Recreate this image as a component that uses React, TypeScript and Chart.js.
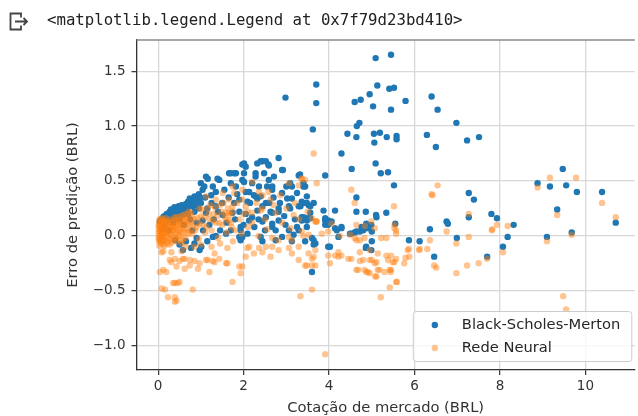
import React, { useEffect, useRef } from "react";
import { Chart, registerables } from "chart.js";

Chart.register(...registerables);

const headerText = "<matplotlib.legend.Legend at 0x7f79d23bd410>";
const seriesLabels = ["Black-Scholes-Merton", "Rede Neural"];
const xTitle = "Cotação de mercado (BRL)";
const yTitle = "Erro de predição (BRL)";
const xTicks = [0, 2, 4, 6, 8, 10];
const yTicks = [-1.0, -0.5, 0.0, 0.5, 1.0, 1.5];

// Black-Scholes-Merton prediction error vs market price
const bsmPoints: [number, number][] = [
  [5.09, 1.62], [5.45, 1.65], [3.70, 1.38], [3.70, 1.21], [3.62, 0.97], [2.98, 1.26],
  [5.13, 1.37], [4.95, 1.29], [5.41, 1.34], [5.52, 1.35], [4.60, 1.22], [4.74, 1.24],
  [5.03, 1.18], [5.45, 1.15], [5.79, 1.23], [6.40, 1.27], [6.54, 1.15], [6.98, 1.03],
  [4.65, 1.00], [4.71, 1.03], [4.43, 0.93], [4.64, 0.90], [5.05, 0.93], [5.19, 0.94],
  [5.35, 0.90], [5.58, 0.91], [5.58, 0.88], [5.06, 0.85], [6.29, 0.92], [6.50, 0.81],
  [7.23, 0.87], [7.51, 0.90], [4.29, 0.75], [4.53, 0.61], [5.09, 0.66], [5.21, 0.57],
  [5.38, 0.58], [5.52, 0.46], [3.91, 0.55], [3.32, 0.56], [3.40, 0.45],
  [9.47, 0.61], [8.88, 0.48], [9.17, 0.45], [9.55, 0.46], [9.80, 0.40], [10.39, 0.40],
  [9.34, 0.24], [10.71, 0.12], [7.27, 0.39], [7.39, 0.33], [6.75, 0.13], [6.78, 0.11],
  [7.27, 0.17], [7.80, 0.20], [7.93, 0.16], [8.32, 0.10], [6.36, 0.06], [9.68, 0.03],
  [6.99, -0.02], [9.10, -0.01], [8.18, -0.01], [8.07, -0.10], [7.70, -0.19], [6.46, -0.19],
  [5.87, -0.04], [6.12, -0.05],
  [4.64, 0.35], [4.64, 0.22], [4.86, 0.22], [5.10, 0.19], [5.34, 0.21], [5.55, 0.11],
  [4.14, 0.23], [3.87, 0.23], [5.11, 0.17], [4.99, 0.10], [5.00, 0.04], [5.00, -0.05],
  [4.99, -0.13], [4.86, -0.11], [4.64, 0.04], [4.76, 0.08], [4.49, 0.02], [4.29, 0.08],
  [4.22, -0.01], [4.14, 0.07], [4.02, -0.10], [3.91, 0.16], [4.02, 0.12], [3.60, -0.02],
  [3.64, -0.08], [3.60, -0.33], [3.44, -0.05], [3.40, 0.30], [3.52, 0.28], [3.36, 0.17],
  [3.48, 0.16], [3.98, 0.14], [4.06, 0.13], [3.91, 0.10], [4.18, 0.05], [4.52, 0.02],
  [4.60, 0.03], [4.72, 0.04], [4.80, 0.05], [4.91, 0.07], [4.87, 0.11], [3.98, -0.10],
  [4.87, -0.10],
  [2.01, 0.66], [2.32, 0.66], [2.44, 0.68], [2.58, 0.65], [2.82, 0.71], [2.92, 0.60],
  [3.29, 0.55], [3.44, 0.45], [3.48, 0.36], [3.13, 0.34], [3.64, 0.30], [3.06, 0.27],
  [2.82, 0.25], [2.67, 0.21], [2.32, 0.23], [2.52, 0.30], [2.28, 0.36], [2.05, 0.40],
  [1.97, 0.51], [1.82, 0.45], [1.66, 0.57], [1.70, 0.48], [1.43, 0.51], [1.28, 0.45],
  [1.12, 0.54], [1.24, 0.37], [0.93, 0.33], [0.81, 0.27], [0.62, 0.27], [0.43, 0.25],
  [0.27, 0.22], [0.12, 0.17], [0.04, 0.13], [2.40, 0.36], [2.20, 0.48], [2.05, 0.63],
  [2.28, 0.57], [2.59, 0.51], [2.67, 0.45], [2.36, 0.45], [2.90, 0.39], [3.13, 0.45],
  [3.40, 0.48], [3.33, 0.27], [3.36, 0.14], [3.56, 0.21], [2.82, 0.14], [2.67, 0.08],
  [2.44, 0.13], [2.13, 0.14], [1.93, 0.08], [1.74, 0.21], [1.51, 0.19], [1.35, 0.27],
  [1.12, 0.21], [1.04, 0.14], [1.16, 0.52], [1.39, 0.52], [1.78, 0.57], [1.97, 0.65],
  [0.74, 0.34], [1.04, 0.42], [2.40, 0.68], [2.52, 0.68], [2.59, 0.64], [1.70, 0.57],
  [1.82, 0.57], [2.01, 0.57], [2.01, 0.49], [2.28, 0.54], [2.48, 0.57], [2.71, 0.54],
  [2.90, 0.60], [3.09, 0.48], [3.25, 0.39], [2.55, 0.45], [2.67, 0.42], [2.13, 0.40],
  [2.24, 0.37], [2.32, 0.34], [2.09, 0.31], [1.90, 0.33], [1.78, 0.30], [2.44, 0.27],
  [2.63, 0.22], [2.82, 0.22], [3.02, 0.34], [3.09, 0.25], [3.29, 0.27], [3.36, 0.31],
  [3.48, 0.30], [3.56, 0.27], [3.40, 0.17], [3.48, 0.14], [3.56, 0.16], [3.91, 0.14],
  [3.98, 0.10], [4.29, 0.07], [3.68, -0.07], [2.98, 0.10], [3.06, 0.05], [2.67, 0.11],
  [2.75, 0.05], [2.52, 0.17], [2.20, 0.17], [1.93, 0.05], [1.97, -0.01], [2.40, -0.01],
  [2.44, -0.05], [2.90, -0.01], [3.17, 0.01], [0.58, -0.13], [0.77, -0.11], [0.97, -0.13],
  [1.01, -0.10], [0.85, -0.07], [1.28, -0.01], [1.59, 0.02], [1.90, -0.01], [1.93, -0.04],
  [2.09, 0.02], [2.75, -0.04], [3.13, -0.05], [3.29, 0.05], [3.48, 0.08], [3.64, -0.04],
  [0.15, 0.10], [0.20, 0.15], [0.30, 0.18], [0.35, 0.12], [0.45, 0.20], [0.50, 0.15],
  [0.55, 0.22], [0.60, 0.10], [0.70, 0.20], [0.75, 0.15], [0.80, 0.05], [0.85, 0.22],
  [0.90, 0.12], [0.95, 0.25], [1.00, 0.30], [1.05, 0.05], [1.10, 0.35], [1.15, 0.25],
  [1.20, 0.10], [1.25, 0.30], [1.30, 0.15], [1.35, 0.40], [1.40, 0.22], [1.45, 0.05],
  [1.50, 0.30], [1.55, 0.42], [1.60, 0.12], [1.65, 0.35], [1.70, 0.05], [1.80, 0.15],
  [1.85, 0.38], [1.90, 0.22], [2.00, 0.10], [2.05, 0.20], [2.15, 0.30], [2.25, 0.08],
  [2.35, 0.15], [2.50, 0.05], [2.60, 0.30], [2.70, 0.35], [2.85, 0.30], [2.95, 0.18],
  [3.00, 0.45], [3.20, 0.15], [3.25, 0.08], [0.65, -0.05], [0.90, -0.02], [0.50, -0.08],
  [0.40, -0.04], [1.15, -0.05], [1.35, 0.00], [0.25, 0.05], [0.10, 0.06], [0.20, 0.20],
  [0.30, 0.24], [0.38, 0.26], [0.48, 0.27], [0.55, 0.28], [0.65, 0.29], [0.70, 0.31],
  [0.85, 0.36], [0.95, 0.38], [1.00, 0.48], [1.08, 0.45],
  [0.08, 0.15], [0.14, 0.18], [0.18, 0.13], [0.24, 0.20], [0.28, 0.15], [0.33, 0.21],
  [0.40, 0.22], [0.42, 0.16], [0.52, 0.24], [0.58, 0.19], [0.62, 0.24], [0.68, 0.25],
  [0.72, 0.27], [0.78, 0.29], [0.82, 0.31], [0.88, 0.28], [0.92, 0.32], [0.98, 0.35],
];

// Neural network prediction error vs market price
const neuralPoints: [number, number][] = [
  [3.64, 0.75], [4.52, 0.42], [4.60, 0.30], [5.52, 0.27], [6.54, 0.46], [6.40, 0.38],
  [9.17, 0.53], [9.78, 0.53], [8.88, 0.44], [10.39, 0.30], [9.34, 0.19], [10.71, 0.17],
  [7.27, 0.20], [3.70, 0.13], [3.36, 0.52], [7.93, 0.10], [7.82, 0.06], [9.68, 0.01],
  [9.10, -0.05], [9.48, -0.55], [9.55, -0.67], [8.18, 0.09], [8.07, -0.15], [7.70, -0.21],
  [7.50, -0.25], [7.23, -0.27], [6.98, -0.34], [6.98, -0.07], [7.27, -0.01], [6.75, 0.04],
  [7.81, 0.05], [6.46, -0.27], [6.51, -0.29], [6.36, -0.04], [6.30, -0.12], [6.12, -0.12],
  [5.87, -0.12], [5.79, -0.20], [5.59, -0.42], [5.42, -0.47], [5.21, -0.56], [5.53, 0.07],
  [5.34, -0.18], [5.45, -0.18], [5.38, -0.22], [5.53, -0.24], [5.30, -0.33], [5.44, -0.33],
  [5.18, -0.31], [5.08, -0.37], [5.07, -0.25], [5.11, -0.24], [5.00, -0.22], [5.14, -0.16],
  [4.91, -0.33], [4.83, -0.31], [4.72, -0.23], [4.64, -0.31], [4.72, -0.15], [4.64, -0.04],
  [4.45, -0.21], [4.29, -0.18], [4.22, -0.15], [4.02, -0.25], [3.91, -1.08], [3.60, -0.49],
  [3.60, -0.27], [3.44, -0.27], [3.33, -0.55], [4.64, 0.10], [4.84, 0.09], [5.07, 0.07],
  [5.22, -0.02], [5.34, -0.02], [5.57, 0.02], [4.25, 0.00], [4.22, -0.19], [4.14, -0.18],
  [4.52, -0.21], [4.80, -0.22], [4.95, -0.22], [4.95, -0.13], [4.68, -0.31], [4.87, -0.33],
  [4.95, -0.34], [5.14, -0.31], [5.11, -0.37], [5.57, -0.42], [5.49, -0.24], [5.57, -0.21],
  [5.42, -0.31], [5.45, -0.31], [5.84, -0.13], [5.88, -0.19], [5.76, -0.25], [6.11, -0.13],
  [6.42, 0.37], [5.53, 0.10], [5.57, 0.05], [4.99, 0.13], [4.49, 0.01], [4.60, -0.02],
  [4.72, -0.04], [4.83, -0.02], [3.68, 0.13], [3.83, 0.02], [3.64, -0.19], [3.68, -0.27],
  [3.29, 0.46], [2.86, 0.37], [3.06, 0.48], [2.75, 0.21], [2.20, 0.49], [2.36, 0.40],
  [2.58, 0.40], [1.74, 0.45], [1.51, 0.39], [1.35, 0.33], [1.12, 0.36], [0.97, 0.25],
  [0.77, 0.21], [0.66, 0.17], [0.50, 0.14], [1.97, 0.33], [2.05, 0.27], [1.74, 0.27],
  [1.58, 0.21], [2.20, 0.21], [2.44, 0.25], [3.71, 0.48], [3.36, 0.52], [2.63, 0.33],
  [2.44, 0.37], [1.97, 0.42], [1.78, 0.39], [1.66, 0.33], [1.66, 0.21], [2.09, 0.22],
  [2.40, 0.23], [3.17, 0.19], [3.60, 0.16], [3.71, 0.13], [4.06, 0.11], [3.98, 0.04],
  [3.36, 0.04], [3.52, 0.01], [3.06, -0.01], [3.13, -0.04], [2.67, -0.02], [2.82, -0.04],
  [2.13, -0.10], [2.36, -0.11], [2.52, -0.10], [3.29, -0.10], [3.52, -0.16], [3.98, -0.18],
  [1.66, 0.14], [3.44, 0.51],
  [0.04, -0.33], [0.12, -0.31], [0.19, -0.33], [0.08, -0.48], [0.16, -0.49], [0.23, -0.56],
  [0.39, -0.56], [0.43, -0.59], [0.39, -0.60], [0.39, -0.43], [0.46, -0.43], [0.81, -0.49],
  [0.27, -0.22], [0.39, -0.21], [0.50, -0.23], [0.62, -0.21], [0.74, -0.22], [0.85, -0.23],
  [0.97, -0.25], [1.12, -0.22], [1.28, -0.23], [0.43, -0.28], [0.62, -0.30], [0.93, -0.30],
  [1.20, -0.33], [1.32, -0.16], [1.43, -0.21], [1.62, -0.25], [1.74, -0.42], [1.93, -0.34],
  [1.97, -0.28], [2.05, -0.19], [2.24, -0.16], [2.44, -0.15], [2.63, -0.19], [2.67, -0.10],
  [2.82, -0.13], [3.06, -0.11], [3.13, -0.16], [3.29, -0.22], [3.48, -0.27], [3.60, -0.21],
  [3.68, -0.13], [0.31, -0.24], [0.58, -0.21], [0.74, -0.27], [1.16, -0.22], [1.32, -0.24],
  [1.59, -0.25], [1.62, -0.11], [1.90, -0.28], [2.09, -0.11], [0.35, -0.43], [0.50, -0.42],
  [0.08, -0.15], [0.12, -0.14], [0.31, -0.15],
  [0.02, 0.12], [0.02, 0.06], [0.02, 0.00], [0.02, -0.05], [0.03, -0.09], [0.05, 0.14],
  [0.05, 0.08], [0.05, 0.03], [0.05, -0.02], [0.06, -0.07], [0.08, 0.11], [0.08, 0.05],
  [0.09, -0.01], [0.10, -0.05], [0.11, 0.15], [0.12, 0.08], [0.13, 0.02], [0.14, -0.03],
  [0.15, -0.09], [0.17, 0.12], [0.18, 0.06], [0.19, 0.00], [0.20, -0.05], [0.22, 0.10],
  [0.23, 0.04], [0.25, -0.02], [0.26, 0.15], [0.28, 0.07], [0.30, 0.01], [0.31, -0.06],
  [0.33, 0.12], [0.35, 0.05], [0.37, -0.01], [0.39, 0.17], [0.40, 0.09], [0.42, 0.02],
  [0.44, -0.05], [0.46, 0.13], [0.48, 0.06], [0.50, 0.00], [0.52, 0.18], [0.54, 0.10],
  [0.56, 0.03], [0.58, -0.03], [0.60, 0.14], [0.63, 0.07], [0.65, 0.20], [0.68, 0.11],
  [0.70, 0.02], [0.73, 0.16], [0.03, 0.09], [0.04, -0.04], [0.07, 0.01], [0.10, 0.12],
  [0.16, 0.03], [0.21, 0.13], [0.27, -0.08], [0.34, 0.08], [0.45, 0.10], [0.55, -0.07],
  [0.01, 0.03], [0.01, -0.02], [0.01, 0.09], [0.03, 0.15], [0.04, 0.05], [0.06, 0.11],
  [0.07, -0.04], [0.08, 0.16], [0.09, 0.07], [0.11, 0.01], [0.12, -0.08], [0.13, 0.13],
  [0.14, 0.06], [0.16, -0.04], [0.18, 0.16], [0.19, 0.09], [0.21, 0.03], [0.22, -0.07],
  [0.24, 0.12], [0.25, 0.08], [0.27, 0.02], [0.29, 0.13], [0.30, -0.03], [0.32, 0.09],
  [0.33, 0.04], [0.36, 0.15], [0.36, -0.04], [0.38, 0.07], [0.41, 0.13], [0.41, -0.02],
  [0.43, 0.05], [0.45, 0.17], [0.47, 0.01], [0.49, 0.11], [0.51, 0.05], [0.53, -0.04],
  [0.55, 0.15], [0.57, 0.08], [0.59, 0.19], [0.61, 0.03], [0.62, 0.11], [0.64, -0.02],
  [0.66, 0.14], [0.69, 0.06], [0.72, 0.22], [0.74, 0.04], [0.77, 0.13], [0.79, 0.18],
  [0.82, 0.09], [0.87, 0.05], [0.92, 0.16], [0.97, 0.11], [1.02, 0.24], [1.08, 0.17],
  [1.13, 0.08], [1.18, 0.20], [1.22, 0.28], [1.28, 0.14], [1.33, 0.26], [1.38, 0.18],
  [1.43, 0.12], [1.48, 0.22], [1.53, 0.30], [1.58, 0.15], [1.63, 0.25], [1.68, 0.19],
  [1.72, 0.08],
  [0.75, 0.10], [0.80, 0.02], [0.85, 0.15], [0.90, 0.08], [0.95, -0.03], [1.00, 0.18],
  [1.05, 0.10], [1.10, 0.03], [1.15, 0.25], [1.20, 0.15], [1.25, 0.05], [1.30, 0.20],
  [1.35, 0.12], [1.40, -0.02], [1.45, 0.28], [1.50, 0.10], [1.55, 0.18], [1.60, 0.03],
  [1.70, 0.12], [1.75, 0.22], [1.80, 0.05], [1.85, 0.30], [1.90, 0.15], [1.95, 0.02],
  [2.00, 0.20], [2.10, 0.08], [2.20, 0.12], [2.30, 0.30], [2.35, 0.00], [2.50, 0.15],
  [2.55, 0.06], [2.70, 0.28], [2.90, 0.12], [3.00, 0.25], [3.10, 0.07], [3.20, 0.30],
  [3.30, 0.15], [3.40, 0.00], [3.50, 0.22], [0.85, -0.10], [1.00, -0.08], [1.25, -0.10],
  [1.45, -0.07], [1.75, -0.05], [0.65, -0.10], [0.55, -0.14],
];

const FONT = "'DejaVu Sans', sans-serif";
const BLUE = "#1f77b4";
const ORANGE = "rgba(255,127,14,0.46)";

const decorPlugin = {
  id: "decor",
  beforeDraw(chart: any) {
    const ctx = chart.ctx as CanvasRenderingContext2D;
    ctx.save();
    ctx.fillStyle = "#ffffff";
    ctx.fillRect(0, 0, chart.width, chart.height);
    // output icon
    ctx.strokeStyle = "#444444";
    ctx.lineWidth = 1.8;
    ctx.lineCap = "butt";
    ctx.beginPath();
    ctx.moveTo(21, 17.5);
    ctx.lineTo(21, 13.5);
    ctx.lineTo(10.5, 13.5);
    ctx.lineTo(10.5, 29.5);
    ctx.lineTo(21, 29.5);
    ctx.lineTo(21, 25.5);
    ctx.stroke();
    ctx.beginPath();
    ctx.moveTo(15, 21.5);
    ctx.lineTo(27, 21.5);
    ctx.moveTo(23.5, 18);
    ctx.lineTo(27, 21.5);
    ctx.lineTo(23.5, 25);
    ctx.stroke();
    ctx.fillStyle = "#212121";
    ctx.font = "15.7px 'DejaVu Sans Mono', monospace";
    ctx.textBaseline = "alphabetic";
    ctx.textAlign = "left";
    ctx.fillText(headerText, 47, 24.5);
    ctx.restore();
  },
  afterDatasetsDraw(chart: any) {
    const ctx = chart.ctx as CanvasRenderingContext2D;
    const area = chart.chartArea;
    ctx.save();
    const bx = area.right - 221.5;
    const by = area.bottom - 58.5;
    const bw = 218.5;
    const bh = 50;
    ctx.beginPath();
    (ctx as any).roundRect(bx, by, bw, bh, 3);
    ctx.fillStyle = "rgba(255,255,255,0.8)";
    ctx.fill();
    ctx.strokeStyle = "#cccccc";
    ctx.lineWidth = 1;
    ctx.stroke();
    const colors = [BLUE, ORANGE];
    seriesLabels.forEach((label, i) => {
      const cy = by + 13.5 + i * 23;
      ctx.beginPath();
      ctx.arc(bx + 21.5, cy, 3.2, 0, Math.PI * 2);
      ctx.fillStyle = colors[i];
      ctx.fill();
      ctx.fillStyle = "#262626";
      ctx.font = `14.7px ${FONT}`;
      ctx.textBaseline = "middle";
      ctx.textAlign = "left";
      ctx.fillText(label, bx + 48.5, cy + 0.5);
    });
    ctx.restore();
  },
  afterDraw(chart: any) {
    const ctx = chart.ctx as CanvasRenderingContext2D;
    const area = chart.chartArea;
    ctx.save();
    ctx.strokeStyle = "#8a8a8a";
    ctx.lineWidth = 1.5;
    ctx.beginPath();
    ctx.moveTo(area.left, area.top);
    ctx.lineTo(area.right, area.top);
    ctx.stroke();
    ctx.restore();
  },
};

export default function App() {
  const canvasRef = useRef<HTMLCanvasElement | null>(null);

  useEffect(() => {
    if (!canvasRef.current) return;
    const chart = new Chart(canvasRef.current, {
      type: "scatter",
      data: {
        datasets: [
          {
            label: seriesLabels[0],
            data: bsmPoints.map(([x, y]) => ({ x, y })),
            backgroundColor: BLUE,
            pointRadius: 3.2,
            pointHoverRadius: 3.2,
            pointBorderWidth: 0,
            borderWidth: 0,
            order: 1,
          },
          {
            label: seriesLabels[1],
            data: neuralPoints.map(([x, y]) => ({ x, y })),
            backgroundColor: ORANGE,
            pointRadius: 3.2,
            pointHoverRadius: 3.2,
            pointBorderWidth: 0,
            borderWidth: 0,
            order: 0,
          },
        ],
      },
      options: {
        animation: false,
        responsive: false,
        maintainAspectRatio: false,
        events: [],
        layout: { padding: { top: 40, left: 0, right: 0, bottom: 0 } },
        plugins: { legend: { display: false }, tooltip: { enabled: false } },
        scales: {
          x: {
            type: "linear",
            min: -0.507,
            max: 11.156,
            afterBuildTicks: (s: any) => {
              s.ticks = xTicks.map((v) => ({ value: v }));
            },
            afterFit: (s: any) => {
              s.height = 46;
            },
            grid: {
              color: "#d8d8d8",
              lineWidth: 1.3,
              tickColor: "#333333",
              tickLength: 5,
              tickWidth: 1.2,
            },
            border: { color: "#333333", width: 1.3 },
            ticks: {
              font: { family: FONT, size: 13.5 },
              color: "#333333",
              padding: 3,
              maxRotation: 0,
              autoSkip: false,
              callback: (v: any) => String(v),
            },
            title: {
              display: true,
              text: xTitle,
              font: { family: FONT, size: 14.7 },
              color: "#333333",
              padding: { top: 0, bottom: -1.1 },
            },
          },
          y: {
            type: "linear",
            min: -1.223,
            max: 1.785,
            afterBuildTicks: (s: any) => {
              s.ticks = yTicks.map((v) => ({ value: v }));
            },
            afterFit: (s: any) => {
              s.width = 136.5;
            },
            grid: {
              color: "#d8d8d8",
              lineWidth: 1.3,
              tickColor: "#333333",
              tickLength: 5,
              tickWidth: 1.2,
            },
            border: { color: "#333333", width: 1.3 },
            ticks: {
              font: { family: FONT, size: 13.5 },
              color: "#333333",
              padding: 6,
              autoSkip: false,
              callback: (v: any) => {
                const n = Number(v);
                const s = Math.abs(n).toFixed(1);
                return n < 0 ? "\u2212" + s : s;
              },
            },
            title: {
              display: true,
              text: yTitle,
              font: { family: FONT, size: 14.7 },
              color: "#333333",
              padding: { top: 64.2, bottom: 0 },
            },
          },
        },
      },
      plugins: [decorPlugin],
    } as any);
    return () => chart.destroy();
  }, []);

  return (
    <div
      style={{
        position: "absolute",
        left: 0,
        top: 0,
        width: 638,
        height: 416,
        overflow: "hidden",
        background: "#ffffff",
      }}
    >
      <canvas ref={canvasRef} width={638} height={416} style={{ width: 638, height: 416, display: "block" }} />
    </div>
  );
}
